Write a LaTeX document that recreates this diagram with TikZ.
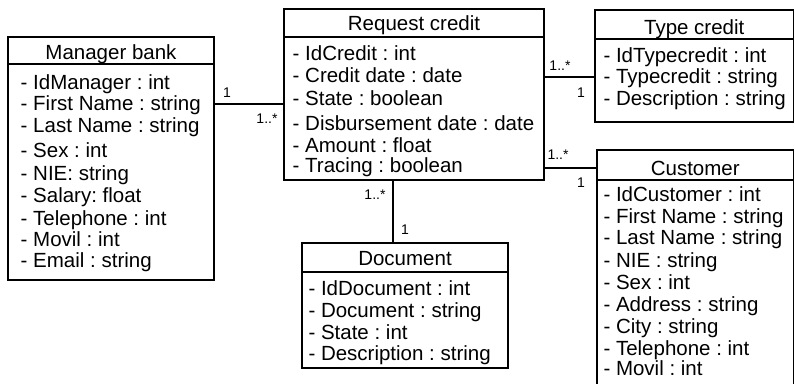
\documentclass[tikz,border=0pt]{standalone}
\usepackage{fontspec}
\setmainfont{Liberation Sans}
\frenchspacing
\begin{document}
\begin{tikzpicture}[x=1pt,y=-1pt,
  box/.style={draw, line width=1.2pt, rectangle, inner sep=0pt, outer sep=0pt},
  sep/.style={line width=1.2pt},
  assoc/.style={line width=1.2pt},
  title/.style={inner sep=0pt, yshift=-2.3pt, text height=15pt, text depth=4.5pt, font=\fontsize{20.5}{22}\selectfont},
  attr/.style={inner sep=0pt, anchor=west, yshift=-2.3pt, text height=15pt, text depth=4.5pt, font=\fontsize{20.5}{22}\selectfont},
  mult/.style={inner sep=0pt, font=\fontsize{14}{15}\selectfont}]
\useasboundingbox (0,0) rectangle (795,383);
\clip (0,0) rectangle (795,383);

% Manager bank
\node[box, minimum width=206pt, minimum height=243pt] (mgr) at (111,158.5) {};
\draw[sep] (mgr.west |- 0,64) -- (mgr.east |- 0,64);
\node[title] (mgrT) at (111,51.7) {Manager bank};
\node[attr] (m1) at (20.5,81.7) {- IdManager : int};
\node[attr] (m2) at (20.5,103.3) {- First Name : string};
\node[attr] (m3) at (20.5,125) {- Last Name : string};
\node[attr] (m4) at (20.5,150) {- Sex : int};
\node[attr] (m5) at (20.5,173.3) {- NIE: string};
\node[attr] (m6) at (20.5,195) {- Salary: float};
\node[attr] (m7) at (20.5,218.3) {- Telephone : int};
\node[attr] (m8) at (20.5,238.6) {- Movil : int};
\node[attr] (m9) at (20.5,260) {- Email : string};

% Request credit
\node[box, minimum width=260pt, minimum height=171pt] (req) at (414,94.5) {};
\draw[sep] (req.west |- 0,37) -- (req.east |- 0,37);
\node[title] (reqT) at (414,23.3) {Request credit};
\node[attr] (r1) at (292.5,53.3) {- IdCredit : int};
\node[attr] (r2) at (292.5,75) {- Credit date : date};
\node[attr] (r3) at (292.5,98.3) {- State : boolean};
\node[attr] (r4) at (292.5,122.7) {- Disbursement date : date};
\node[attr] (r5) at (292.5,144.6) {- Amount : float};
\node[attr] (r6) at (292.5,165) {- Tracing : boolean};

% Type credit
\node[box, minimum width=198.5pt, minimum height=112pt] (typ) at (694.25,66) {};
\draw[sep] (typ.west |- 0,39) -- (typ.east |- 0,39);
\node[title] (typT) at (694.25,26.7) {Type credit};
\node[attr] (t1) at (603.3,55) {- IdTypecredit : int};
\node[attr] (t2) at (603.3,76) {- Typecredit : string};
\node[attr] (t3) at (603.3,98.3) {- Description : string};

% Customer (runs past the lower edge)
\node[box, minimum width=196.5pt, minimum height=250pt] (cus) at (695.25,275) {};
\draw[sep] (cus.west |- 0,180) -- (cus.east |- 0,180);
\node[title] (cusT) at (695.25,168.3) {Customer};
\node[attr] (c1) at (603.3,194.3) {- IdCustomer : int};
\node[attr] (c2) at (603.3,216) {- First Name : string};
\node[attr] (c3) at (603.3,237.3) {- Last Name : string};
\node[attr] (c4) at (603.3,260) {- NIE : string};
\node[attr] (c5) at (603.3,281.7) {- Sex : int};
\node[attr] (c6) at (603.3,304) {- Address : string};
\node[attr] (c7) at (603.3,326) {- City : string};
\node[attr] (c8) at (603.3,348.3) {- Telephone : int};
\node[attr] (c9) at (603.3,368.3) {- Movil : int};

% Document
\node[box, minimum width=206pt, minimum height=125pt] (doc) at (405,305.5) {};
\draw[sep] (doc.west |- 0,272) -- (doc.east |- 0,272);
\node[title] (docT) at (405,258.3) {Document};
\node[attr] (d1) at (308.3,288.3) {- IdDocument : int};
\node[attr] (d2) at (308.3,310) {- Document : string};
\node[attr] (d3) at (308.3,332) {- State : int};
\node[attr] (d4) at (308.3,352.7) {- Description : string};

% Associations
\coordinate (yMgr) at (0,104);
\coordinate (yTyp) at (0,77);
\coordinate (yCus) at (0,168);
\coordinate (xDoc) at (393,0);
\draw[assoc] (mgr.east |- yMgr) -- (req.west |- yMgr);
\draw[assoc] (req.east |- yTyp) -- (typ.west |- yTyp);
\draw[assoc] (req.east |- yCus) -- (cus.west |- yCus);
\draw[assoc] (req.south -| xDoc) -- (doc.north -| xDoc);

% Multiplicities
\node[mult] (l1) at (227,93) {1};
\node[mult] (l2) at (267,119) {1..*};
\node[mult] (l3) at (560,66) {1..*};
\node[mult] (l4) at (581,93) {1};
\node[mult] (l5) at (558,155) {1..*};
\node[mult] (l6) at (581,183) {1};
\node[mult] (l7) at (375,195) {1..*};
\node[mult] (l8) at (405,230) {1};
\end{tikzpicture}
\end{document}
